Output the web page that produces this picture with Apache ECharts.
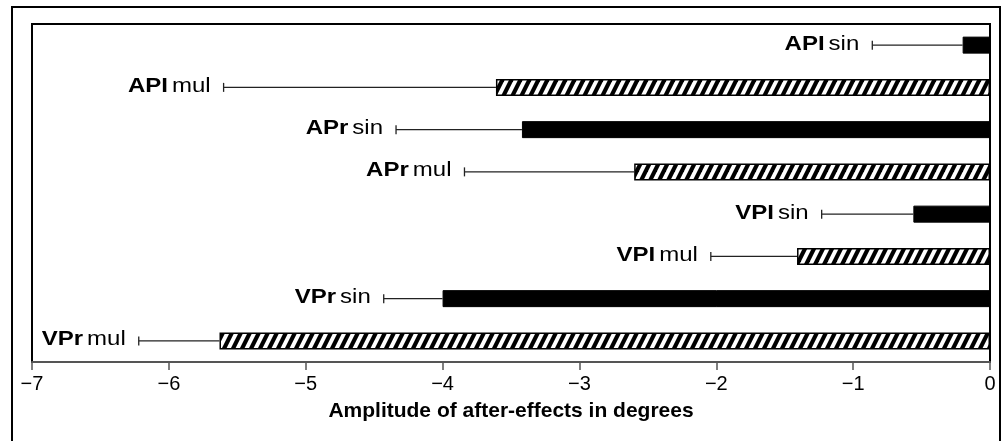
<!DOCTYPE html>
<html>
<head>
<meta charset="utf-8">
<script src="https://cdn.jsdelivr.net/npm/echarts@6/dist/echarts.min.js"></script>
<style>html,body{margin:0;padding:0;background:#fff}#c{width:1005px;height:441px}</style>
</head>
<body>
<div id="c"></div>
<script>
var groups = ['API', 'API', 'APr', 'APr', 'VPI', 'VPI', 'VPr', 'VPr'];
var conditions = ['sin', 'mul', 'sin', 'mul', 'sin', 'mul', 'sin', 'mul'];
var means = [-0.20, -3.61, -3.42, -2.60, -0.56, -1.41, -4.00, -5.63];
var errorEnds = [-0.86, -5.60, -4.34, -3.84, -1.23, -2.04, -4.43, -6.22];
var xTicks = [-7, -6, -5, -4, -3, -2, -1, 0];
var axisTitle = 'Amplitude of after-effects in degrees';

var categories = groups.map(function (g, i) { return g + ' ' + conditions[i]; });
var FONT = 'Liberation Sans, Arial, sans-serif';

function hatch() {
  var W = 9, H = 18, w = 4.6;
  var c = document.createElement('canvas');
  c.width = W; c.height = H;
  var ctx = c.getContext('2d');
  ctx.fillStyle = '#fff';
  ctx.fillRect(0, 0, W, H);
  ctx.fillStyle = '#000';
  for (var k = -2; k <= 1; k++) {
    ctx.beginPath();
    ctx.moveTo(k * W, H);
    ctx.lineTo(k * W + w, H);
    ctx.lineTo(k * W + W + w, 0);
    ctx.lineTo(k * W + W, 0);
    ctx.closePath();
    ctx.fill();
  }
  return c;
}
var hatchImg = hatch();

var barData = means.map(function (v, i) {
  var isMul = conditions[i] === 'mul';
  return {
    value: v,
    itemStyle: isMul
      ? { color: { image: hatchImg, repeat: 'repeat' }, borderColor: '#000', borderWidth: 1.5 }
      : { color: '#000', borderColor: '#000', borderWidth: 1 }
  };
});
var errData = means.map(function (v, i) { return [i, v, errorEnds[i]]; });

var chart = echarts.init(document.getElementById('c'), null, { renderer: 'canvas' });
chart.setOption({
  animation: false,
  backgroundColor: '#fff',
  grid: { left: 32, right: 15, top: 24, bottom: 79, show: true, borderColor: '#000', borderWidth: 2, containLabel: false },
  xAxis: {
    type: 'value', min: -7, max: 0, interval: 1,
    axisLine: { show: true, lineStyle: { color: '#555', width: 2 } },
    axisTick: { show: true, inside: false, length: 8, lineStyle: { color: '#555', width: 1.5 } },
    splitLine: { show: false },
    axisLabel: {
      color: '#000', fontSize: 20, fontFamily: FONT, margin: 12,
      formatter: function (v) { return xTicks.indexOf(v) >= 0 ? String(v).replace('-', '\u2212') : ''; }
    },
    name: axisTitle, nameLocation: 'middle', nameGap: 39,
    nameTextStyle: { color: '#000', fontSize: 21, fontWeight: 'bold', fontFamily: FONT }
  },
  yAxis: {
    type: 'category', data: categories, inverse: true,
    axisLine: { show: true, lineStyle: { color: '#000', width: 2 } },
    axisTick: { show: false }, axisLabel: { show: false }, splitLine: { show: false }
  },
  series: [
    {
      type: 'bar', data: barData, barWidth: 17
    },
    {
      type: 'custom', data: errData,
      renderItem: function (params, api) {
        var i = api.value(0);
        var p0 = api.coord([api.value(1), i]);
        var p1 = api.coord([api.value(2), i]);
        return {
          type: 'group',
          children: [
            { type: 'line', shape: { x1: p0[0], y1: p0[1], x2: p1[0], y2: p1[1] }, style: { stroke: '#222', lineWidth: 1.3 } },
            { type: 'line', shape: { x1: p1[0], y1: p1[1] - 4.5, x2: p1[0], y2: p1[1] + 4.5 }, style: { stroke: '#222', lineWidth: 1.3 } },
            {
              type: 'text',
              x: p1[0] - 13, y: p1[1] - 1,
              scaleX: 1.2, scaleY: 1,
              style: {
                x: 0, y: 0,
                text: '{b|' + groups[i] + '} {n|' + conditions[i] + '}',
                align: 'right', verticalAlign: 'middle',
                rich: {
                  b: { fontWeight: 'bold', fontSize: 20, fontFamily: FONT, fill: '#000' },
                  n: { fontSize: 20, fontFamily: FONT, fill: '#000' }
                }
              }
            }
          ]
        };
      },
      z: 5
    }
  ],
  graphic: [
    { type: 'polyline', shape: { points: [[12, 441], [12, 7], [1000, 7], [1000, 441]] }, style: { stroke: '#000', lineWidth: 2, fill: null }, silent: true }
  ]
});
</script>
</body>
</html>
